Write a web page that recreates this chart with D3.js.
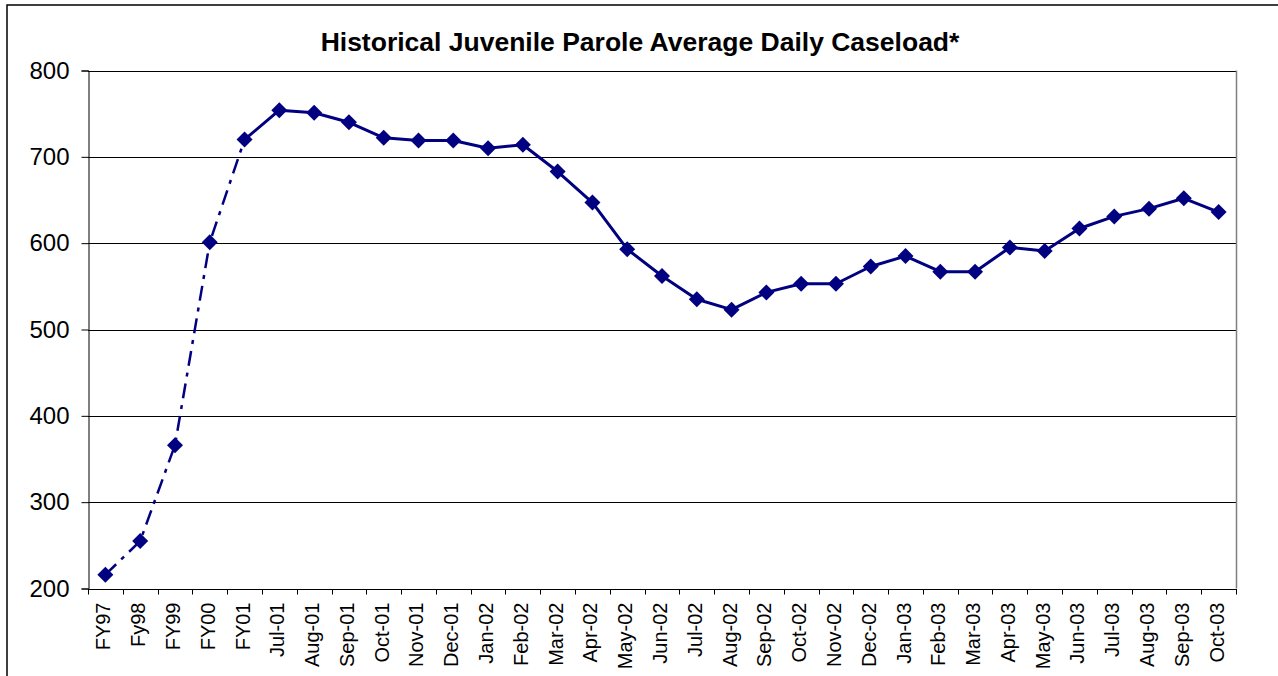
<!DOCTYPE html>
<html>
<head>
<meta charset="utf-8">
<script src="https://cdn.jsdelivr.net/npm/d3@7"></script>
<style>
  html, body { margin: 0; padding: 0; background: #fff; }
  svg { display: block; font-family: "Liberation Sans", Arial, sans-serif; }
</style>
</head>
<body>
<svg id="chart" width="1278" height="676"></svg>
<script>
// Period labels: fiscal-year averages followed by monthly averages
const categories = ["FY97","Fy98","FY99","FY00","FY01","Jul-01","Aug-01","Sep-01","Oct-01","Nov-01","Dec-01",
  "Jan-02","Feb-02","Mar-02","Apr-02","May-02","Jun-02","Jul-02","Aug-02","Sep-02","Oct-02","Nov-02","Dec-02",
  "Jan-03","Feb-03","Mar-03","Apr-03","May-03","Jun-03","Jul-03","Aug-03","Sep-03","Oct-03"];
// Average daily caseload per period
const caseload = [216,255,366,601,720,754,751,740,722,719,719,710,714,683,647,593,562,535,523,543,553,553,573,585,567,567,595,591,617,631,640,652,636];
// Fiscal-year points (drawn dash-dot) end at this index
const fiscalYearCount = 5;
const yTicks = [200,300,400,500,600,700,800];
const title = "Historical Juvenile Parole Average Daily Caseload*";

const svg = d3.select("#chart");
const plot = { left: 88, right: 1236, top: 70.5, bottom: 588.5 };

// Outer chart frame
svg.append("rect")
  .attr("x", 7).attr("y", 5).attr("width", 1400).attr("height", 800)
  .attr("fill", "#fff").attr("stroke", "#000").attr("stroke-width", 1.5);

const x = d3.scaleBand().domain(categories).range([plot.left, plot.right]).padding(0);
const y = d3.scaleLinear().domain([200, 800]).range([plot.bottom, plot.top]);
const cx = d => x(d) + x.bandwidth() / 2;

// Horizontal gridlines
svg.append("g").selectAll("line").data(yTicks.slice(1)).join("line")
  .attr("x1", plot.left).attr("x2", plot.right)
  .attr("y1", d => Math.round(y(d)) + 0.5).attr("y2", d => Math.round(y(d)) + 0.5)
  .attr("stroke", "#000").attr("stroke-width", 1);

// Right edge of plot area
svg.append("line")
  .attr("x1", plot.right + 0.5).attr("x2", plot.right + 0.5)
  .attr("y1", plot.top).attr("y2", plot.bottom)
  .attr("stroke", "#808080").attr("stroke-width", 1.5);

// Y axis
const yAxis = d3.axisLeft(y).tickValues(yTicks).tickSize(7).tickPadding(12).tickFormat(d3.format("d"));
const gy = svg.append("g").attr("transform", `translate(${plot.left + 0.5},0)`).call(yAxis);
gy.select(".domain").attr("stroke", "#000").attr("stroke-width", 1);
gy.selectAll(".tick line").attr("stroke", "#000");
gy.selectAll(".tick text").attr("font-size", 24).attr("fill", "#000")
  .attr("font-family", "Liberation Sans, Arial, sans-serif");

// X axis: ticks on band boundaries, rotated labels at band centres
const gx = svg.append("g").attr("transform", `translate(0,${Math.round(plot.bottom) + 0.5})`);
gx.append("line").attr("x1", plot.left).attr("x2", plot.right + 1).attr("stroke", "#000");
const boundaries = categories.map(c => x(c)).concat([plot.right]);
gx.selectAll("line.tk").data(boundaries).join("line").attr("class", "tk")
  .attr("x1", d => Math.round(d) + 0.5).attr("x2", d => Math.round(d) + 0.5)
  .attr("y1", 0).attr("y2", 5).attr("stroke", "#000");
gx.selectAll("text").data(categories).join("text")
  .attr("transform", d => `translate(${cx(d) + 5},13) rotate(-90)`)
  .attr("text-anchor", "end")
  .attr("font-size", 20)
  .attr("fill", "#000")
  .text(d => d);

// Title
svg.append("text")
  .attr("x", 640).attr("y", 51)
  .attr("text-anchor", "middle")
  .attr("font-size", 26.5).attr("font-weight", "bold")
  .attr("fill", "#000")
  .text(title);

const navy = "#000080";
const points = categories.map((c, i) => ({ c, v: caseload[i], i }));
const line = d3.line().x(d => cx(d.c)).y(d => y(d.v));

// Fiscal-year trend: dash-dot line
svg.append("path")
  .datum(points.slice(0, fiscalYearCount))
  .attr("d", line)
  .attr("fill", "none").attr("stroke", navy).attr("stroke-width", 2.5)
  .attr("stroke-dasharray", "15,7,4,7");

// Monthly trend: solid line
svg.append("path")
  .datum(points.slice(fiscalYearCount - 1))
  .attr("d", line)
  .attr("fill", "none").attr("stroke", navy).attr("stroke-width", 3)
  .attr("stroke-linejoin", "round");

// Diamond markers
const r = 8;
svg.append("g").selectAll("path").data(points).join("path")
  .attr("d", d => {
    const px = cx(d.c), py = y(d.v);
    return `M${px},${py - r}L${px + r},${py}L${px},${py + r}L${px - r},${py}Z`;
  })
  .attr("fill", navy);
</script>
</body>
</html>
